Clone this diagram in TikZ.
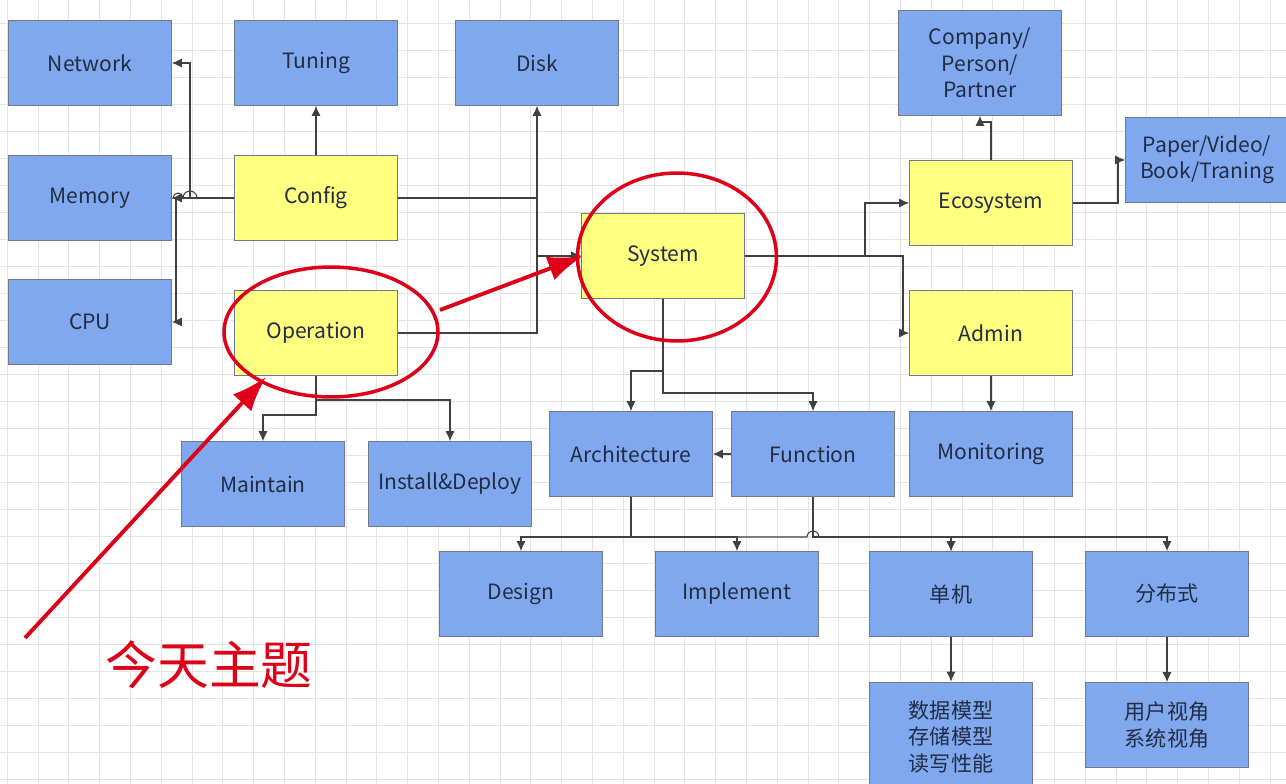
\documentclass[tikz,border=0pt]{standalone}
\usepackage{fontspec}
\setmainfont{Noto Sans CJK SC}
\usetikzlibrary{arrows.meta}

\definecolor{boxblue}{RGB}{128,168,238}
\definecolor{boxyellow}{RGB}{255,255,128}
\definecolor{boxline}{RGB}{112,122,142}
\definecolor{gridgray}{RGB}{228,228,228}
\definecolor{wiregray}{RGB}{64,64,64}
\definecolor{hlred}{RGB}{222,0,24}
\definecolor{ink}{RGB}{34,44,68}

\begin{document}
\begin{tikzpicture}[x=0.02cm,y=-0.02cm,
  bluebox/.style={draw=boxline,fill=boxblue,minimum width=3.26cm,minimum height=1.7cm,
    inner sep=1pt,align=center,text=ink,font=\fontsize{12}{15}\selectfont},
  yellowbox/.style={bluebox,fill=boxyellow},
  wire/.style={draw=wiregray,line width=0.6pt,-{Latex[length=2mm,width=1.8mm]}},
  gridline/.style={draw=gridgray,line width=0.5pt},
  redmark/.style={draw=hlred,line width=2pt},
  redarrow/.style={draw=hlred,line width=2.2pt,-{Latex[length=0.7cm,width=0.5cm]}}]

  \useasboundingbox[fill=white] (0,0) rectangle (1286,784);
  \clip (0,0) rectangle (1286,784);

  % grid
  \foreach \i in {0,...,41}
    \draw[gridline] ({7.3+30.8*\i},0) -- ({7.3+30.8*\i},784);
  \foreach \j in {-19,...,9}
    \draw[gridline] (0,{536.7+27*\j}) -- (1286,{536.7+27*\j});

  % left part
  \node[bluebox] (network) at (90,63) {Network};
  \node[bluebox] (tuning) at (316,63) {Tuning};
  \node[bluebox] (disk) at (537,63) {Disk};
  \node[bluebox] (memory) at (90,198) {Memory};
  \node[yellowbox] (config) at (316,198) {Config};
  \node[bluebox] (cpu) at (90,322) {CPU};
  \node[yellowbox] (operation) at (316,333) {Operation};
  \node[bluebox] (maintain) at (263,484) {Maintain};
  \node[bluebox] (install) at (450,484) {Install\&Deploy};

  % middle part
  \node[yellowbox] (system) at (663,256) {System};
  \node[bluebox] (architecture) at (631,454) {Architecture};
  \node[bluebox] (function) at (813,454) {Function};
  \node[bluebox] (design) at (521,594) {Design};
  \node[bluebox] (implement) at (737,594) {Implement};
  \node[bluebox] (single) at (951,594) {单机};
  \node[bluebox] (distributed) at (1167,594) {分布式};
  \node[bluebox,minimum height=2.2cm] (model) at (951,737) {数据模型\\存储模型\\读写性能};
  \node[bluebox] (views) at (1167,725) {用户视角\\系统视角};

  % right part
  \node[bluebox,minimum height=2.1cm] (company) at (980,63) {Company/\\Person/\\Partner};
  \node[bluebox] (paper) at (1207,160) {Paper/Video/\\Book/Traning};
  \node[yellowbox] (ecosystem) at (991,203) {Ecosystem};
  \node[yellowbox] (admin) at (991,333) {Admin};
  \node[bluebox] (monitoring) at (991,454) {Monitoring};

  \draw[wire] (config.north) -- (tuning.south);
  \draw[wire] (config.west) -- (190,198) |- (network.east);
  \draw[wire] (config.west) -- (176,198) |- (cpu.east);
  \draw[wire] (config.west) -- (197,198) arc[start angle=0,end angle=180,radius=0.14cm]
    arc[start angle=0,end angle=180,radius=0.1cm] -- (memory.east);
  \draw[wire] (config.east) -| (disk.south);
  \draw[wire] (config.east) -- (537,198) |- (system.west);
  \draw[wire] (operation.east) -- (537,333) |- (system.west);
  \draw[wire] (operation.south) -- (316,415) -| (maintain.north);
  \draw[wire] (operation.south) -- (316,400) -| (install.north);

  \draw[wire] (system.south) -- (663,371) -| (architecture.north);
  \draw[wire] (system.south) -- (663,393) -| (function.north);
  \draw[wire] (function.west) -- (architecture.east);
  \draw[wire] (architecture.south) -- (631,537) -| (design.north);
  \draw[wire] (architecture.south) -- (631,537) -| (implement.north);
  \draw[wire] (architecture.south) -- (631,537) -- (807,537)
    arc[start angle=180,end angle=0,radius=0.12cm] -| (single.north);
  \draw[wire] (function.south) -- (813,537) -| (single.north);
  \draw[wire] (function.south) -- (813,537) -| (distributed.north);
  \draw[wire] (single.south) -- (model.north);
  \draw[wire] (distributed.south) -- (views.north);

  \draw[wire] (system.east) -- (865,256) |- (ecosystem.west);
  \draw[wire] (system.east) -- (903,256) |- (admin.west);
  \draw[wire] (ecosystem.north) -- (991,122) -| (company.south);
  \draw[wire] (ecosystem.east) -- (1118,203) |- (paper.west);
  \draw[wire] (admin.south) -- (monitoring.north);

  % red notes
  \draw[redmark] (331,332) ellipse [x radius=2.14cm,y radius=1.3cm];
  \draw[redmark] (677,257) ellipse [x radius=1.99cm,y radius=1.68cm];
  \coordinate (opstart) at (440,310);
  \coordinate (systip) at (583,256);
  \coordinate (tailend) at (25,638);
  \coordinate (optip) at (266,377);
  \draw[redarrow] (opstart) -- (systip);
  \draw[redarrow] (tailend) -- (optip);
  \node[text=hlred,font=\fontsize{29.5}{34}\selectfont] (topic) at (209,665) {今天主题};

\end{tikzpicture}
\end{document}
